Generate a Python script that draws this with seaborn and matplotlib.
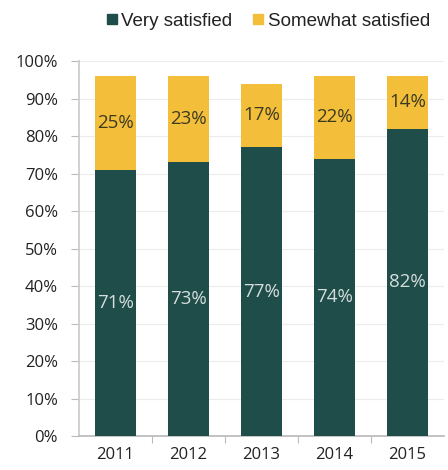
import matplotlib
matplotlib.use("Agg")
import matplotlib.pyplot as plt
import seaborn as sns
import pandas as pd
from matplotlib.lines import Line2D

years = ["2011", "2012", "2013", "2014", "2015"]
very_satisfied = [71, 73, 77, 74, 82]
somewhat_satisfied = [25, 23, 17, 22, 14]
series_names = ["Very satisfied", "Somewhat satisfied"]
y_ticks = [0, 10, 20, 30, 40, 50, 60, 70, 80, 90, 100]

dark = "#1f4d4a"
yellow = "#f3bf3a"

sns.set_theme(style="white")
plt.rcParams["font.family"] = ["Open Sans", "DejaVu Sans"]

df = pd.DataFrame({
    "year": years,
    "very": very_satisfied,
    "some": somewhat_satisfied,
})
df["total"] = df["very"] + df["some"]

fig = plt.figure(figsize=(4.48, 4.70), dpi=100)
ax = fig.add_axes([0.176, 0.0723, 0.815, 0.7977])

ax.yaxis.grid(True, color="#ececec", linewidth=0.8)
ax.set_axisbelow(True)

sns.barplot(data=df, x="year", y="total", color=yellow, width=0.57,
            saturation=1, ax=ax, zorder=2, linewidth=0)
sns.barplot(data=df, x="year", y="very", color=dark, width=0.57,
            saturation=1, ax=ax, zorder=3, linewidth=0)

for i, (v, s) in enumerate(zip(very_satisfied, somewhat_satisfied)):
    ax.text(i, v / 2, f"{v}%", ha="center", va="center", fontsize=13.5,
            color="#d5dedd", zorder=5)
    ax.text(i, v + s / 2, f"{s}%", ha="center", va="center", fontsize=13.5,
            color="#3d3a22", zorder=5)

ax.set_ylim(0, 100)
ax.set_xlim(-0.5, len(years) - 0.5)
ax.set_yticks(y_ticks)
ax.set_yticklabels([f"{t}%" for t in y_ticks], fontsize=12, color="#222222")
ax.set_xlabel("")
ax.set_ylabel("")
ax.tick_params(axis="x", length=0, pad=8, labelsize=12, labelcolor="#222222")
ax.tick_params(axis="y", length=6, width=0.8, color="#bbbbbb", pad=9, direction="out", left=True)

# category boundary ticks on x axis
ax.set_xticks([0.5 + i for i in range(len(years) - 1)], minor=True)
ax.tick_params(axis="x", which="minor", length=5, width=0.8, color="#bbbbbb", bottom=True, direction="out")

for side in ["top", "right"]:
    ax.spines[side].set_visible(False)
ax.spines["left"].set_color("#cccccc")
ax.spines["bottom"].set_color("#bbbbbb")

handles = [
    Line2D([0], [0], marker="s", linestyle="none", markersize=7.5, markerfacecolor=dark, markeredgecolor=dark),
    Line2D([0], [0], marker="s", linestyle="none", markersize=7.5, markerfacecolor=yellow, markeredgecolor=yellow),
]
fig.legend(handles, series_names, loc="center", bbox_to_anchor=(0.598, 0.955), ncol=2,
           frameon=False, handlelength=0.6, handletextpad=0.2,
           columnspacing=1.1, labelcolor="#222222",
           prop={"family": ["Liberation Sans", "DejaVu Sans"], "size": 13.5})

fig.savefig("out.png", dpi=100)
